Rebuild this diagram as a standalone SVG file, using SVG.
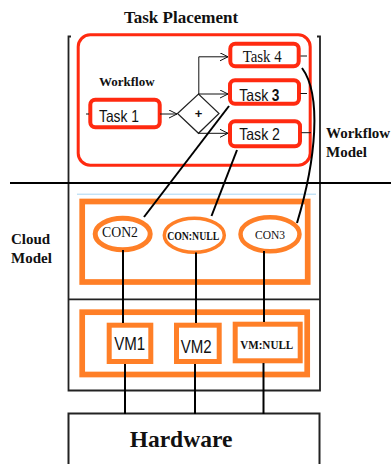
<svg xmlns="http://www.w3.org/2000/svg" width="391" height="464" viewBox="0 0 391 464">
<defs>
<marker id="arr" markerWidth="10" markerHeight="10" refX="8" refY="4" orient="auto" markerUnits="userSpaceOnUse">
<path d="M0,0 L8,4 L0,8" fill="none" stroke="#111" stroke-width="1"/>
</marker>
<style>
.frame{fill:none;stroke:#222;stroke-width:1.8}
.red{fill:#fff;stroke:#ff2a10;stroke-width:4}
.org{fill:#fff;stroke:#ff7f27}
.ln{stroke:#000;stroke-width:2;fill:none}
.thin{stroke:#111;stroke-width:1;fill:none}
.tb{font-family:"Liberation Serif","Times New Roman",serif;font-weight:bold;fill:#111}
.tr{font-family:"Liberation Serif","Times New Roman",serif;fill:#111}
.sa{font-family:"Liberation Sans",Arial,sans-serif;fill:#111}
</style>
</defs>
<rect width="391" height="464" fill="#fff"/>

<g id="layers">
<path class="frame" d="M71,36.5 H68.5 V390.5 H320 V36.5 H317"/>
<line class="frame" x1="68.5" y1="299.3" x2="320" y2="299.3"/>
<line x1="10" y1="183" x2="391" y2="183" stroke="#000" stroke-width="2.2"/>
<line x1="77" y1="194.2" x2="316" y2="194.2" stroke="#a9d6f2" stroke-width="1"/>
<text class="tb" x="181" y="23.3" font-size="17" text-anchor="middle">Task Placement</text>
<text class="tb" x="326" y="138" font-size="15">Workflow</text>
<text class="tb" x="326" y="157" font-size="15">Model</text>
<text class="tb" x="11" y="244.3" font-size="15">Cloud</text>
<text class="tb" x="11" y="263.3" font-size="15">Model</text>
</g>

<g id="workflow">
<rect x="78.2" y="34.8" width="232" height="130.4" rx="12" fill="none" stroke="#ff2a10" stroke-width="3"/>
<text class="tb" x="99" y="85.7" font-size="13">Workflow</text>
</g>

<g id="task1">
<rect class="red" x="90.3" y="99.7" width="69.4" height="27.6" rx="5"/>
<text class="sa" x="119" y="121.7" font-size="16.5" text-anchor="middle" textLength="40" lengthAdjust="spacingAndGlyphs">Task 1</text>
</g>
<g id="gateway">
<polygon points="177.5,113.5 198.5,94 219,113.5 198.5,133.3" fill="#fff" stroke="#222" stroke-width="1.2"/>
<text class="sa" x="198.5" y="118" font-size="13" font-weight="bold" text-anchor="middle">+</text>
</g>
<g id="task4">
<rect class="red" x="230.3" y="43.7" width="68.4" height="22.6" rx="5"/>
<text class="tr" x="262.2" y="61.7" font-size="16.5" text-anchor="middle" textLength="39" lengthAdjust="spacingAndGlyphs">Task 4</text>
</g>
<g id="task3">
<rect class="red" x="230" y="80.3" width="69" height="23.4" rx="5"/>
<text class="sa" x="239.3" y="101" font-size="16.5" textLength="28.9" lengthAdjust="spacingAndGlyphs">Task</text>
<text class="sa" x="271.8" y="101" font-size="16.5" font-weight="bold" textLength="7.6" lengthAdjust="spacingAndGlyphs">3</text>
</g>
<g id="task2">
<rect class="red" x="230" y="121.3" width="70" height="25" rx="5"/>
<text class="sa" x="259.6" y="140" font-size="16.5" text-anchor="middle" textLength="40.7" lengthAdjust="spacingAndGlyphs">Task 2</text>
</g>

<g id="cloud">
<rect class="org" x="82.2" y="201.5" width="225.5" height="80.5" fill="none" stroke-width="5.7"/>
</g>
<g id="con2">
<ellipse class="org" cx="122.7" cy="234" rx="27.5" ry="15.8" stroke-width="5"/>
<text class="tr" x="120" y="236.7" font-size="14.5" text-anchor="middle" textLength="36" lengthAdjust="spacingAndGlyphs">CON2</text>
</g>
<g id="connull">
<ellipse class="org" cx="194.3" cy="235.3" rx="30" ry="17" stroke-width="3.5"/>
<text class="tb" x="193.2" y="240" font-size="12.5" text-anchor="middle" textLength="52" lengthAdjust="spacingAndGlyphs">CON:NULL</text>
</g>
<g id="con3">
<ellipse class="org" cx="270" cy="234.2" rx="29.5" ry="17" stroke-width="4.5"/>
<text class="tr" x="270" y="239.3" font-size="12.5" text-anchor="middle" textLength="30" lengthAdjust="spacingAndGlyphs">CON3</text>
</g>

<g id="vms">
<rect class="org" x="82.2" y="312.2" width="225" height="62.3" fill="none" stroke-width="5.7"/>
</g>
<g id="vm1">
<rect class="org" x="109.2" y="325.2" width="41.6" height="36.3" stroke-width="5"/>
<text class="sa" x="129.7" y="350" font-size="18" text-anchor="middle" textLength="31" lengthAdjust="spacingAndGlyphs">VM1</text>
</g>
<g id="vm2">
<rect class="org" x="176.5" y="325.2" width="42.7" height="36.3" stroke-width="5"/>
<text class="sa" x="196.2" y="352.7" font-size="18" text-anchor="middle" textLength="31" lengthAdjust="spacingAndGlyphs">VM2</text>
</g>
<g id="vmnull">
<rect class="org" x="235.2" y="324.2" width="65" height="36.6" stroke-width="5"/>
<text class="tb" x="266.7" y="349.3" font-size="12.5" text-anchor="middle" textLength="53" lengthAdjust="spacingAndGlyphs">VM:NULL</text>
</g>

<g id="hardware">
<rect x="68.5" y="413.5" width="251" height="60" fill="#fff" stroke="#222" stroke-width="2"/>
<text class="tb" x="181" y="446.7" font-size="23.5" text-anchor="middle">Hardware</text>
</g>

<g id="connectors">
<line class="thin" x1="160" y1="114" x2="177" y2="114" marker-end="url(#arr)"/>
<path class="thin" d="M198.8,94 V56.8 H228" marker-end="url(#arr)"/>
<line class="thin" x1="198.5" y1="94" x2="228" y2="94" marker-end="url(#arr)"/>
<line class="thin" x1="198.5" y1="133.3" x2="228" y2="133.3" marker-end="url(#arr)"/>
<line class="thin" x1="86" y1="114" x2="89" y2="114"/>
<line class="thin" x1="300.5" y1="56" x2="307" y2="56"/>
<line class="thin" x1="300.5" y1="93.5" x2="307" y2="93.5"/>
<line class="thin" x1="301.5" y1="132.7" x2="311" y2="132.7"/>
<line class="ln" x1="229" y1="106" x2="144" y2="217"/>
<line class="ln" x1="237" y1="150" x2="211.5" y2="216"/>
<path class="ln" d="M302,68 C322,95 316,160 297,223"/>
<line class="ln" x1="123" y1="250" x2="123" y2="323"/>
<line class="ln" x1="196" y1="252.5" x2="196" y2="323"/>
<line class="ln" x1="264" y1="251" x2="264" y2="322"/>
<line class="ln" x1="125" y1="364" x2="125" y2="414"/>
<line class="ln" x1="195" y1="364" x2="195" y2="414"/>
<line class="ln" x1="263.5" y1="363" x2="263.5" y2="414"/>
</g>
</svg>
